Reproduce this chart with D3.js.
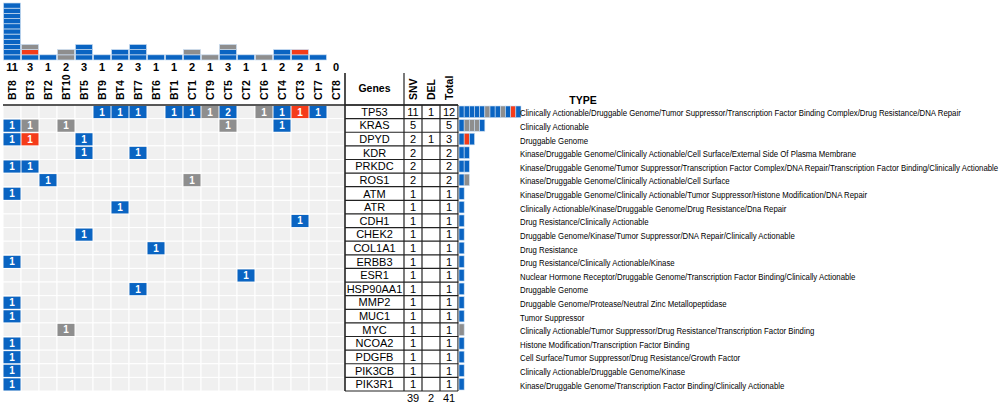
<!DOCTYPE html>
<html>
<head>
<meta charset="utf-8">
<script src="https://cdn.jsdelivr.net/npm/d3@7"></script>
<style>
  body { margin: 0; background: #fff; }
  text { font-family: "Liberation Sans", Arial, sans-serif; }
</style>
</head>
<body>
<div id="chart"></div>
<script>
// samples (columns) and genes (rows)
const samples = ["BT8","BT3","BT2","BT10","BT5","BT9","BT4","BT7","BT6","BT1","CT1","CT9","CT5","CT2","CT6","CT4","CT3","CT7","CT8"];
const genes = ["TP53","KRAS","DPYD","KDR","PRKDC","ROS1","ATM","ATR","CDH1","CHEK2","COL1A1","ERBB3","ESR1","HSP90AA1","MMP2","MUC1","MYC","NCOA2","PDGFB","PIK3CB","PIK3R1"];

// mutations: [gene, sample, count, class]  (b = blue, g = grey, r = red / DEL)
const mutations = [
  ["TP53","BT9",1,"b"],["TP53","BT4",1,"b"],["TP53","BT7",1,"b"],["TP53","BT1",1,"b"],
  ["TP53","CT1",1,"b"],["TP53","CT9",1,"g"],["TP53","CT5",2,"b"],["TP53","CT6",1,"g"],
  ["TP53","CT4",1,"b"],["TP53","CT3",1,"r"],["TP53","CT7",1,"b"],
  ["KRAS","BT8",1,"b"],["KRAS","BT3",1,"g"],["KRAS","BT10",1,"g"],["KRAS","CT5",1,"g"],["KRAS","CT4",1,"b"],
  ["DPYD","BT8",1,"b"],["DPYD","BT3",1,"r"],["DPYD","BT5",1,"b"],
  ["KDR","BT5",1,"b"],["KDR","BT7",1,"b"],
  ["PRKDC","BT8",1,"b"],["PRKDC","BT3",1,"b"],
  ["ROS1","BT2",1,"b"],["ROS1","CT1",1,"g"],
  ["ATM","BT8",1,"b"],
  ["ATR","BT4",1,"b"],
  ["CDH1","CT3",1,"b"],
  ["CHEK2","BT5",1,"b"],
  ["COL1A1","BT6",1,"b"],
  ["ERBB3","BT8",1,"b"],
  ["ESR1","CT2",1,"b"],
  ["HSP90AA1","BT7",1,"b"],
  ["MMP2","BT8",1,"b"],
  ["MUC1","BT8",1,"b"],
  ["MYC","BT10",1,"g"],
  ["NCOA2","BT8",1,"b"],
  ["PDGFB","BT8",1,"b"],
  ["PIK3CB","BT8",1,"b"],
  ["PIK3R1","BT8",1,"b"]
];

const snv   = [11,5,2,2,2,2,1,1,1,1,1,1,1,1,1,1,1,1,1,1,1];
const del   = [1,null,1,null,null,null,null,null,null,null,null,null,null,null,null,null,null,null,null,null,null];
const total = [12,5,3,2,2,2,1,1,1,1,1,1,1,1,1,1,1,1,1,1,1];
const sums  = [39,2,41];

const types = [
  "Clinically Actionable/Druggable Genome/Tumor Suppressor/Transcription Factor Binding Complex/Drug Resistance/DNA Repair",
  "Clinically Actionable",
  "Druggable Genome",
  "Kinase/Druggable Genome/Clinically Actionable/Cell Surface/External Side Of Plasma Membrane",
  "Kinase/Druggable Genome/Tumor Suppressor/Transcription Factor Complex/DNA Repair/Transcription Factor Binding/Clinically Actionable",
  "Kinase/Druggable Genome/Clinically Actionable/Cell Surface",
  "Kinase/Druggable Genome/Clinically Actionable/Tumor Suppressor/Histone Modification/DNA Repair",
  "Clinically Actionable/Kinase/Druggable Genome/Drug Resistance/Dna Repair",
  "Drug Resistance/Clinically Actionable",
  "Druggable Genome/Kinase/Tumor Suppressor/DNA Repair/Clinically Actionable",
  "Drug Resistance",
  "Drug Resistance/Clinically Actionable/Kinase",
  "Nuclear Hormone Receptor/Druggable Genome/Transcription Factor Binding/Clinically Actionable",
  "Druggable Genome",
  "Druggable Genome/Protease/Neutral Zinc Metallopeptidase",
  "Tumor Suppressor",
  "Clinically Actionable/Tumor Suppressor/Drug Resistance/Transcription Factor Binding",
  "Histone Modification/Transcription Factor Binding",
  "Cell Surface/Tumor Suppressor/Drug Resistance/Growth Factor",
  "Clinically Actionable/Druggable Genome/Kinase",
  "Kinase/Druggable Genome/Transcription Factor Binding/Clinically Actionable"
];

const width = 1000, height = 405;
const color = d3.scaleOrdinal().domain(["b","r","g"]).range(["#0a64c2","#f53c1a","#8e8e8e"]);

const svg = d3.select("#chart").append("svg")
  .attr("width", width)
  .attr("height", height);

// scales
const x = d3.scaleBand().domain(samples).range([3, 345]);
const y = d3.scaleBand().domain(genes).range([105, 391]);
const yTop = d3.scaleLinear().domain([0, 11]).range([60, 3]);
const xRight = d3.scaleLinear().domain([0, 12]).range([459, 521]);

// ---- top stacked bars per sample
const order = {b: 0, r: 1, g: 2};
const colSegs = [];
samples.forEach(s => {
  const units = [];
  mutations.filter(m => m[1] === s).forEach(m => {
    for (let k = 0; k < m[2]; k++) units.push(m[3]);
  });
  units.sort((a, b) => order[a] - order[b]);
  units.forEach((t, i) => colSegs.push({sample: s, i: i, type: t}));
});

svg.append("g").selectAll("rect")
  .data(colSegs)
  .join("rect")
  .attr("x", d => x(d.sample) + 0.5)
  .attr("width", x.bandwidth() - 1)
  .attr("y", d => yTop(d.i + 1))
  .attr("height", d => yTop(d.i) - yTop(d.i + 1))
  .attr("fill", d => color(d.type))
  .attr("stroke", "#c9dcf0")
  .attr("stroke-width", 0.7);

// counts above sample names
svg.append("g").selectAll("text")
  .data(samples)
  .join("text")
  .attr("x", d => x(d) + x.bandwidth() / 2)
  .attr("y", 71)
  .attr("text-anchor", "middle")
  .style("font-size", "11px")
  .style("font-weight", "bold")
  .text(d => d3.sum(mutations.filter(m => m[1] === d), m => m[2]));

// sample labels (rotated)
svg.append("g").selectAll("text")
  .data(samples)
  .join("text")
  .attr("transform", d => `translate(${x(d) + x.bandwidth() / 2 + 4},100) rotate(-90)`)
  .style("font-size", "10.5px")
  .style("font-weight", "bold")
  .text(d => d);

// ---- grid background
const cells = [];
genes.forEach(g => samples.forEach(s => cells.push({g, s})));
svg.append("g").selectAll("rect")
  .data(cells)
  .join("rect")
  .attr("x", d => x(d.s))
  .attr("y", d => y(d.g))
  .attr("width", x.bandwidth())
  .attr("height", y.bandwidth())
  .attr("fill", "#f0f0f0")
  .attr("stroke", "#fff")
  .attr("stroke-width", 1);

// mutated cells
const mut = svg.append("g").selectAll("g")
  .data(mutations)
  .join("g");
mut.append("rect")
  .attr("x", d => x(d[1]) + 0.5)
  .attr("y", d => y(d[0]) + 1)
  .attr("width", x.bandwidth() - 1)
  .attr("height", y.bandwidth() - 1.5)
  .attr("fill", d => color(d[3]));
mut.append("text")
  .attr("x", d => x(d[1]) + x.bandwidth() / 2)
  .attr("y", d => y(d[0]) + y.bandwidth() / 2 + 3.7)
  .attr("text-anchor", "middle")
  .style("font-size", "10px")
  .style("font-weight", "bold")
  .style("fill", "#fff")
  .text(d => d[2]);

// ---- gene table
const colX = {genes: [345, 404], snv: [404, 422], del: [422, 440], total: [440, 458]};
const mid = c => (colX[c][0] + colX[c][1]) / 2;
const table = svg.append("g");

// row lines
const rowEdges = genes.map(g => y(g)).concat([y(genes[genes.length - 1]) + y.bandwidth()]);
table.selectAll("line.row")
  .data(rowEdges)
  .join("line")
  .attr("class", "row")
  .attr("x1", 345).attr("x2", 458)
  .attr("y1", d => d)
  .attr("y2", d => d)
  .attr("stroke", "#222")
  .attr("stroke-width", 1.2);

// vertical lines
[[345, 73], [404, 73], [422, 105], [440, 105], [458, 105]].forEach(v => {
  table.append("line")
    .attr("x1", v[0]).attr("x2", v[0])
    .attr("y1", v[1]).attr("y2", 391)
    .attr("stroke", "#222")
    .attr("stroke-width", v[0] === 345 ? 1.6 : 1.2);
});

// header line across grid and table
svg.append("line")
  .attr("x1", 3).attr("x2", 458)
  .attr("y1", 105).attr("y2", 105)
  .attr("stroke", "#222")
  .attr("stroke-width", 1.6);

table.append("text")
  .attr("x", mid("genes")).attr("y", 92)
  .attr("text-anchor", "middle")
  .style("font-size", "10.5px").style("font-weight", "bold")
  .text("Genes");

[["snv", "SNV"], ["del", "DEL"], ["total", "Total"]].forEach(h => {
  table.append("text")
    .attr("transform", `translate(${mid(h[0]) + 4},100) rotate(-90)`)
    .style("font-size", "10.5px").style("font-weight", "bold")
    .text(h[1]);
});

const rowText = (vals, c) => table.append("g").selectAll("text")
  .data(genes)
  .join("text")
  .attr("x", mid(c))
  .attr("y", d => y(d) + y.bandwidth() / 2 + 4)
  .attr("text-anchor", "middle")
  .style("font-size", "11px")
  .text((d, i) => vals[i] == null ? "" : vals[i]);

rowText(genes, "genes");
rowText(snv, "snv");
rowText(del, "del");
rowText(total, "total");

["snv", "del", "total"].forEach((c, i) => {
  table.append("text")
    .attr("x", mid(c)).attr("y", 402)
    .attr("text-anchor", "middle")
    .style("font-size", "11px")
    .text(sums[i]);
});

// ---- right bars per gene (one unit per mutation, in sample order)
const rowSegs = [];
genes.forEach(g => {
  let i = 0;
  samples.forEach(s => {
    mutations.filter(m => m[0] === g && m[1] === s).forEach(m => {
      for (let k = 0; k < m[2]; k++) rowSegs.push({gene: g, i: i++, type: m[3]});
    });
  });
});

svg.append("g").selectAll("rect")
  .data(rowSegs)
  .join("rect")
  .attr("x", d => xRight(d.i))
  .attr("width", d => xRight(d.i + 1) - xRight(d.i))
  .attr("y", d => y(d.gene) + 1)
  .attr("height", y.bandwidth() - 2)
  .attr("fill", d => color(d.type))
  .attr("stroke", "#c9dcf0")
  .attr("stroke-width", 0.6);

// ---- type annotations
svg.append("text")
  .attr("x", 583).attr("y", 104)
  .attr("text-anchor", "middle")
  .style("font-size", "10.5px").style("font-weight", "bold")
  .text("TYPE");

const typeText = svg.append("g").selectAll("text")
  .data(types)
  .join("text")
  .attr("x", 0)
  .attr("y", 0)
  .style("font-size", "9.2px")
  .text(d => d);

// the source uses a condensed face: squeeze horizontally so the TP53 line ends near x=961
const squeeze = 441 / typeText.nodes()[0].getComputedTextLength();
typeText.attr("transform", (d, i) =>
  `translate(520,${y(genes[i]) + y.bandwidth() / 2 + 4.5}) scale(${squeeze},1)`);
</script>
</body>
</html>
